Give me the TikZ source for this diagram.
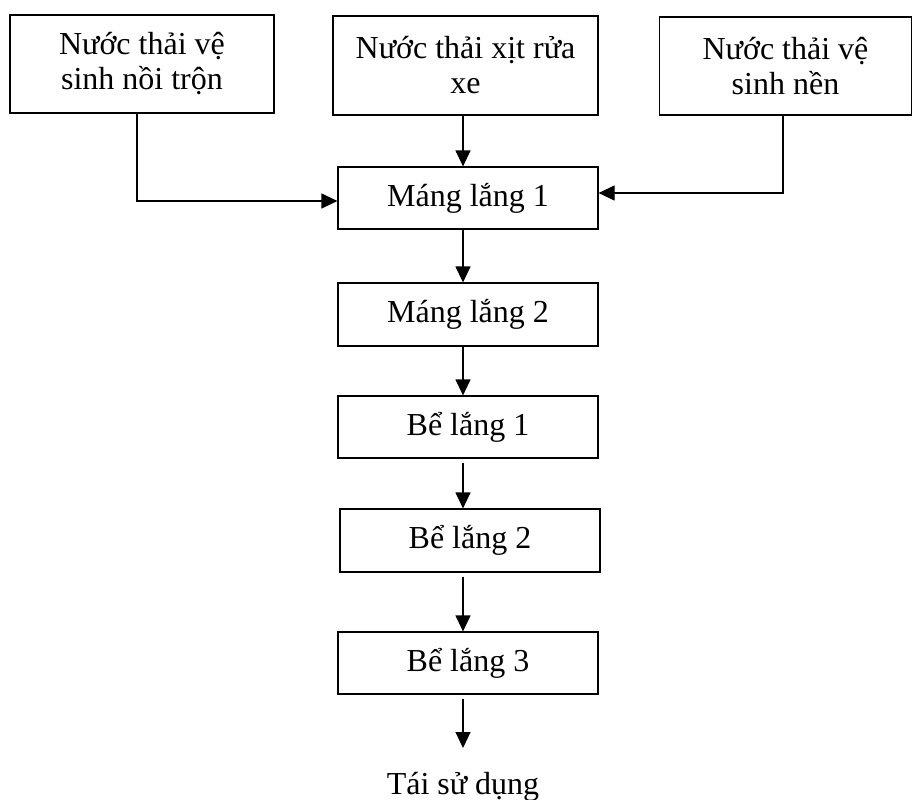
\documentclass[tikz,border=0pt]{standalone}
\usepackage{fontspec}
\setmainfont{Liberation Serif}
\usetikzlibrary{arrows.meta}
\tikzset{
  box/.style={draw, line width=1.2pt, align=center, inner sep=0pt,
    font=\fontsize{32}{35}\selectfont},
  arr/.style={line width=1.2pt, -{Triangle[length=16pt,width=15pt]}},
  conn/.style={line width=1.2pt}
}
\begin{document}
\begin{tikzpicture}[x=1pt,y=-1pt]
\useasboundingbox (0,0) rectangle (913,800);
\node[box, minimum width=264pt, minimum height=98pt] (src1) at (142,64) {Nước thải vệ\\sinh nồi trộn};
\node[box, minimum width=265pt, minimum height=99pt] (src2) at (465.5,65.5) {Nước thải xịt rửa\\xe};
\node[box, minimum width=252pt, minimum height=98pt] (src3) at (785.5,66) {Nước thải vệ\\sinh nền};
\node[box, minimum width=260pt, minimum height=62pt] (m1) at (468,198) {Máng lắng 1};
\node[box, minimum width=260pt, minimum height=63pt] (m2) at (468,314.5) {Máng lắng 2};
\node[box, minimum width=260pt, minimum height=62pt] (b1) at (468,427) {Bể lắng 1};
\node[box, minimum width=260pt, minimum height=63pt] (b2) at (470,540.5) {Bể lắng 2};
\node[box, minimum width=260pt, minimum height=62pt] (b3) at (468,663) {Bể lắng 3};
\node[font=\fontsize{32}{35}\selectfont, anchor=base, inner sep=0pt] (out) at (463,794) {Tái sử dụng};
\coordinate (mid) at (463,0);
\coordinate (lx) at (137,0);
\coordinate (rx) at (783,0);
\coordinate (outtop) at (463,748);
\draw[arr] (src2.south -| mid) -- (m1.north -| mid);
\draw[arr] (src1.south -| lx) |- ([yshift=-3pt]m1.west);
\draw[arr] (src3.south -| rx) |- ([yshift=5pt]m1.east);
\draw[arr] (m1.south -| mid) -- (m2.north -| mid);
\draw[arr] (m2.south -| mid) -- (b1.north -| mid);
\draw[arr] ([yshift=-4pt]b1.south -| mid) -- (b2.north -| mid);
\draw[arr] ([yshift=-4pt]b2.south -| mid) -- (b3.north -| mid);
\draw[arr] ([yshift=-4pt]b3.south -| mid) -- (outtop);
\end{tikzpicture}
\end{document}
